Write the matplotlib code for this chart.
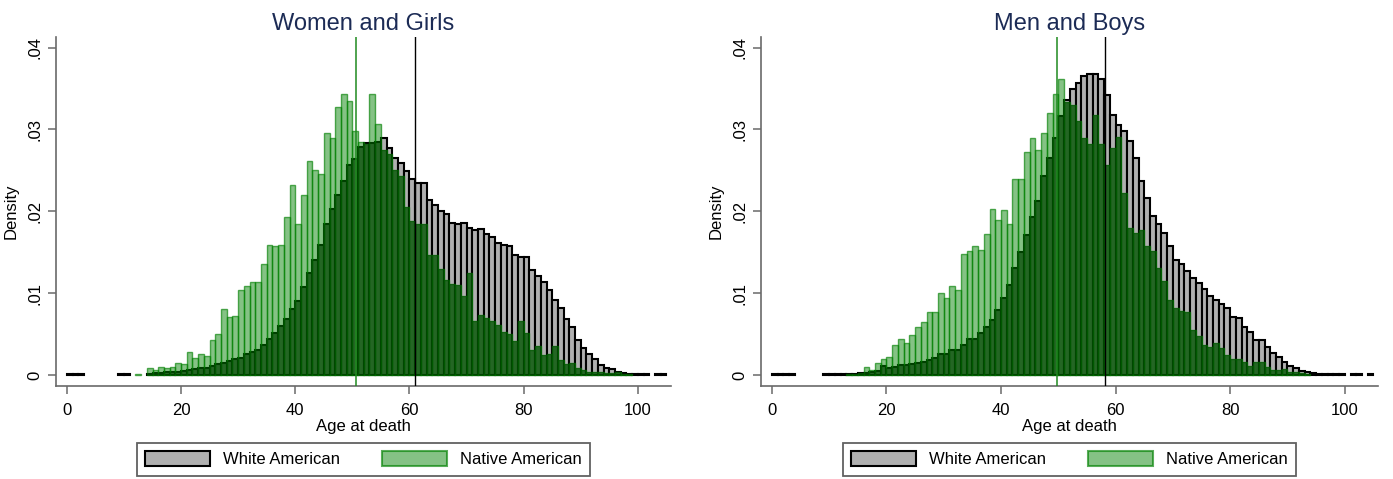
import numpy as np
import matplotlib
matplotlib.use("Agg")
import matplotlib.pyplot as plt
from matplotlib.patches import Patch

plt.rcParams['font.family'] = ['Liberation Sans', 'DejaVu Sans']

# one-year age bins, 0..104 (left edge of each bin)
ages = np.arange(0, 105)

Z = 0.00008  # near-zero bins that Stata still draws as a flat dash

women_white = [
    Z, Z, Z, 0, 0, 0, 0, 0, 0, Z,
    Z, 0, 0, 0, 0.0001, 0.0002, 0.0002, 0.0003, 0.0003, 0.0004,
    0.0005, 0.0006, 0.0007, 0.0008, 0.0009, 0.0011, 0.0013, 0.0015, 0.0017, 0.0019,
    0.0021, 0.0025, 0.0028, 0.0031, 0.0036, 0.0044, 0.0051, 0.0060, 0.0068, 0.0080,
    0.0090, 0.0108, 0.0124, 0.0141, 0.0159, 0.0184, 0.0203, 0.0220, 0.0237, 0.0256,
    0.0264, 0.0278, 0.0283, 0.0284, 0.0285, 0.0289, 0.0277, 0.0265, 0.0259, 0.0249,
    0.0239, 0.0235, 0.0235, 0.0214, 0.0208, 0.0200, 0.0197, 0.0186, 0.0185, 0.0186,
    0.0179, 0.0177, 0.0178, 0.0172, 0.0169, 0.0161, 0.0159, 0.0158, 0.0147, 0.0144,
    0.0144, 0.0128, 0.0121, 0.0113, 0.0104, 0.0091, 0.0082, 0.0068, 0.0058, 0.0043,
    0.0033, 0.0026, 0.0020, 0.0012, 0.0009, 0.0007, 0.0004, 0.0002, 0.0001, 0.0001,
    Z, Z, 0, Z, Z,
]
women_native = [
    0, 0, 0, 0, 0, 0, 0, 0, 0, 0,
    0, 0, Z, 0, 0.0008, 0.0006, 0.0010, 0.0008, 0.0010, 0.0015,
    0.0013, 0.0028, 0.0021, 0.0026, 0.0023, 0.0043, 0.0050, 0.0080, 0.0071, 0.0072,
    0.0104, 0.0109, 0.0113, 0.0114, 0.0135, 0.0159, 0.0157, 0.0159, 0.0193, 0.0232,
    0.0184, 0.0220, 0.0261, 0.0251, 0.0246, 0.0296, 0.0289, 0.0328, 0.0343, 0.0335,
    0.0298, 0.0285, 0.0282, 0.0343, 0.0307, 0.0275, 0.0270, 0.0250, 0.0243, 0.0205,
    0.0188, 0.0184, 0.0184, 0.0147, 0.0147, 0.0130, 0.0116, 0.0111, 0.0110, 0.0096,
    0.0125, 0.0066, 0.0073, 0.0069, 0.0066, 0.0061, 0.0052, 0.0050, 0.0041, 0.0066,
    0.0051, 0.0031, 0.0035, 0.0024, 0.0026, 0.0035, 0.0018, 0.0013, 0.0014, 0.0008,
    0.0006, 0.0004, 0.0003, 0.0003, 0.0002, 0.0002, 0.0004, 0.0001, 0.0001, 0,
    0, 0, 0, 0, 0,
]
men_white = [
    Z, Z, Z, Z, 0, 0, 0, 0, 0, Z,
    Z, Z, Z, Z, 0.0001, 0.0002, 0.0002, 0.0003, 0.0005, 0.0011,
    0.0008, 0.0010, 0.0012, 0.0012, 0.0013, 0.0015, 0.0016, 0.0018, 0.0021, 0.0025,
    0.0026, 0.0030, 0.0031, 0.0037, 0.0044, 0.0044, 0.0051, 0.0059, 0.0067, 0.0079,
    0.0094, 0.0110, 0.0131, 0.0150, 0.0171, 0.0193, 0.0213, 0.0243, 0.0265, 0.0289,
    0.0316, 0.0336, 0.0350, 0.0357, 0.0365, 0.0368, 0.0368, 0.0362, 0.0342, 0.0318,
    0.0306, 0.0298, 0.0286, 0.0265, 0.0237, 0.0216, 0.0194, 0.0184, 0.0173, 0.0157,
    0.0141, 0.0135, 0.0127, 0.0119, 0.0112, 0.0105, 0.0097, 0.0091, 0.0087, 0.0082,
    0.0071, 0.0070, 0.0058, 0.0052, 0.0043, 0.0043, 0.0034, 0.0027, 0.0022, 0.0016,
    0.0011, 0.0009, 0.0005, 0.0003, 0.0002, 0.0001, Z, Z, Z, Z,
    0, Z, Z, 0, Z,
]
men_native = [
    0, 0, 0, 0, 0, 0, 0, 0, 0, 0,
    0, 0, 0, Z, Z, 0.0002, 0.0010, 0.0006, 0.0014, 0.0020,
    0.0022, 0.0037, 0.0044, 0.0039, 0.0049, 0.0059, 0.0065, 0.0077, 0.0077, 0.0100,
    0.0094, 0.0109, 0.0104, 0.0148, 0.0152, 0.0158, 0.0153, 0.0172, 0.0203, 0.0189,
    0.0201, 0.0184, 0.0240, 0.0240, 0.0272, 0.0289, 0.0275, 0.0296, 0.0320, 0.0343,
    0.0362, 0.0333, 0.0330, 0.0310, 0.0290, 0.0282, 0.0318, 0.0282, 0.0257, 0.0277,
    0.0291, 0.0222, 0.0180, 0.0173, 0.0177, 0.0157, 0.0151, 0.0131, 0.0115, 0.0092,
    0.0082, 0.0078, 0.0077, 0.0055, 0.0047, 0.0037, 0.0034, 0.0039, 0.0033, 0.0024,
    0.0019, 0.0019, 0.0016, 0.0011, 0.0016, 0.0016, 0.0010, 0.0006, 0.0006, 0.0007,
    0.0003, 0.0003, 0.0002, 0.0001, 0, 0, 0, 0, 0, 0,
    0, 0, 0, 0, 0,
]

# mean age at death
mean_women = {'white': 61.0, 'native': 50.7}
mean_men = {'white': 58.1, 'native': 49.8}

titles = ['Women and Girls', 'Men and Boys']
labels = ['White American', 'Native American']

gray_fill = '#b0b0b0'
green_fill = (0.0, 0.5, 0.0, 0.48)
green_edge = (0.0, 0.5, 0.0, 0.65)
overlap_tint = (0.0, 0.27, 0.0, 0.6)   # Stata renders the overlap much darker
green_line = '#1f8a1f'
axis_col = '#6a6a6a'
title_col = '#1c2b55'

W, H = 1393, 479
fig = plt.figure(figsize=(W / 100, H / 100), dpi=100)
ax1 = fig.add_axes([56 / W, 1 - 386 / H, (671 - 56) / W, (386 - 37) / H])
ax2 = fig.add_axes([761 / W, 1 - 386 / H, (1378 - 761) / W, (386 - 37) / H])


def draw_panel(ax, white, native, means, title):
    white = np.array(white)
    native = np.array(native)
    both = np.minimum(white, native)
    mw, mn, mb = white > 0, native > 0, both > 0

    ax.bar(ages[mw], white[mw], width=1.0, align='edge', color=gray_fill,
           edgecolor='black', linewidth=1.5, zorder=2)
    ax.bar(ages[mn], native[mn], width=1.0, align='edge', color=green_fill,
           edgecolor=green_edge, linewidth=1.0, zorder=3)
    ax.bar(ages[mb], both[mb], width=1.0, align='edge', color=overlap_tint,
           linewidth=0, zorder=3.5)
    ax.axvline(means['native'], color=green_line, lw=1.1, zorder=4)
    ax.axvline(means['white'], color='black', lw=1.0, zorder=4)

    ax.set_xlim(-1.9, 105.8)
    ax.set_ylim(-0.00135, 0.0413)
    ax.set_xticks([0, 20, 40, 60, 80, 100])
    ax.set_yticks([0, 0.01, 0.02, 0.03, 0.04])
    ax.set_yticklabels(['0', '.01', '.02', '.03', '.04'], rotation=90, va='center')
    ax.tick_params(axis='both', labelsize=12, colors=axis_col, labelcolor='black',
                   length=6, width=1.1)
    ax.tick_params(axis='x', pad=6)
    ax.tick_params(axis='y', pad=4)
    for s in ['top', 'right']:
        ax.spines[s].set_visible(False)
    for s in ['left', 'bottom']:
        ax.spines[s].set_color(axis_col)
        ax.spines[s].set_linewidth(1.2)

    ax.set_xlabel('Age at death', fontsize=12, labelpad=1)
    ax.set_ylabel('Density', fontsize=12, labelpad=6)
    ax.set_title(title, fontsize=17, color=title_col, pad=5)

    handles = [Patch(facecolor=gray_fill, edgecolor='black', linewidth=1.5),
               Patch(facecolor=green_fill, edgecolor=green_edge, linewidth=1.5)]
    leg = ax.legend(handles, labels, loc='upper center', bbox_to_anchor=(0.5, -0.163),
                    ncol=2, fontsize=12, frameon=True, fancybox=False,
                    handlelength=3.9, handleheight=1.0, handletextpad=0.8,
                    columnspacing=2.5, borderpad=0.5, borderaxespad=0)
    leg.get_frame().set_edgecolor('#3a3a3a')
    leg.get_frame().set_linewidth(1.3)


draw_panel(ax1, women_white, women_native, mean_women, titles[0])
draw_panel(ax2, men_white, men_native, mean_men, titles[1])

fig.savefig('out.png', dpi=100, facecolor='white')
